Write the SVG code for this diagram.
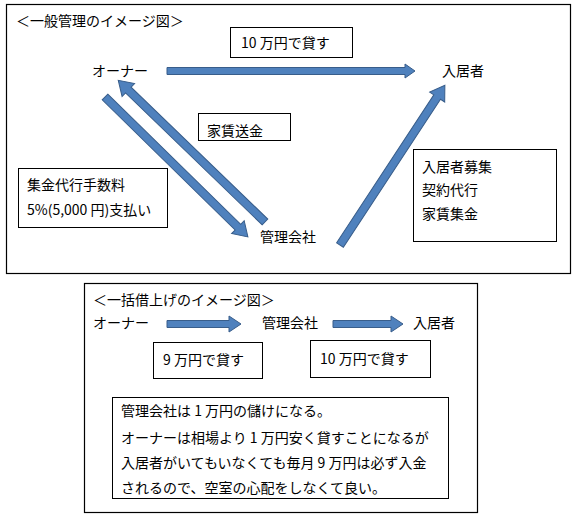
<svg xmlns="http://www.w3.org/2000/svg" width="580" height="520" viewBox="0 0 580 520">
<style>
text{font-family:"Noto Sans CJK JP","Liberation Sans",sans-serif;font-size:14px;fill:#000}
.frame{fill:#fff;stroke:#000;stroke-width:1.2}
.box{fill:#fff;stroke:#000;stroke-width:1}
.arr{fill:#4F81BD;stroke:#385D8A;stroke-width:1}
</style>
<rect width="580" height="520" fill="#fff"/>
<g id="frame-general"><rect class="frame" x="6.5" y="4.5" width="564" height="269"/><text x="16" y="26">＜一般管理のイメージ図＞</text></g>
<g id="frame-bulk"><rect class="frame" x="84.5" y="283.5" width="393" height="229"/><text x="93" y="305">＜一括借上げのイメージ図＞</text></g>

<g id="connectors">
<path class="arr" d="M0,-3.5 H238 V-7 L248,0 L238,7 V3.5 H0 Z" transform="translate(167,71)"/>
<path class="arr" d="M0,-4 H186 V-9 L200,0 L186,9 V4 H0 Z" transform="translate(105,97) rotate(44.4)"/>
<path class="arr" d="M0,-4 H190 V-9 L204,0 L190,9 V4 H0 Z" transform="translate(265,222) rotate(224)"/>
<path class="arr" d="M0,-4 H177 V-9 L191,0 L177,9 V4 H0 Z" transform="translate(340,245) rotate(-56.7)"/>
<path class="arr" d="M0,-3.5 H62 V-8 L74,0 L62,8 V3.5 H0 Z" transform="translate(167,324)"/>
<path class="arr" d="M0,-3.5 H58 V-8 L70,0 L58,8 V3.5 H0 Z" transform="translate(333,324)"/>
</g>

<g id="owner"><text x="92" y="76">オーナー</text></g>
<g id="tenant"><text x="442" y="76">入居者</text></g>
<g id="mgmt"><text x="260" y="242">管理会社</text></g>
<g id="label-rent10"><rect class="box" x="230.5" y="27.5" width="122" height="30"/><text x="241" y="48">10 万円で貸す</text></g>
<g id="label-remit"><rect class="box" x="198.5" y="113.5" width="92" height="27"/><text x="207" y="136">家賃送金</text></g>
<g id="label-fee"><rect class="box" x="18.5" y="168.5" width="149" height="59"/><text x="27" y="190">集金代行手数料</text><text x="27" y="215">5%(5,000 円)支払い</text></g>
<g id="label-services"><rect class="box" x="413.5" y="149.5" width="143" height="92"/><text x="422" y="172">入居者募集</text><text x="422" y="195">契約代行</text><text x="422" y="219">家賃集金</text></g>

<g id="b-owner"><text x="93" y="328">オーナー</text></g>
<g id="b-mgmt"><text x="262" y="328">管理会社</text></g>
<g id="b-tenant"><text x="413" y="328">入居者</text></g>
<g id="b-label9"><rect class="box" x="153.5" y="342.5" width="109" height="36"/><text x="163" y="365">9 万円で貸す</text></g>
<g id="b-label10"><rect class="box" x="310.5" y="340.5" width="120" height="37"/><text x="320" y="364">10 万円で貸す</text></g>
<g id="b-note"><rect class="box" x="112.5" y="397.5" width="336" height="101"/>
<text x="121" y="416">管理会社は 1 万円の儲けになる。</text>
<text x="121" y="443">オーナーは相場より 1 万円安く貸すことになるが</text>
<text x="121" y="468">入居者がいてもいなくても毎月 9 万円は必ず入金</text>
<text x="121" y="493">されるので、空室の心配をしなくて良い。</text>
</g>
</svg>
